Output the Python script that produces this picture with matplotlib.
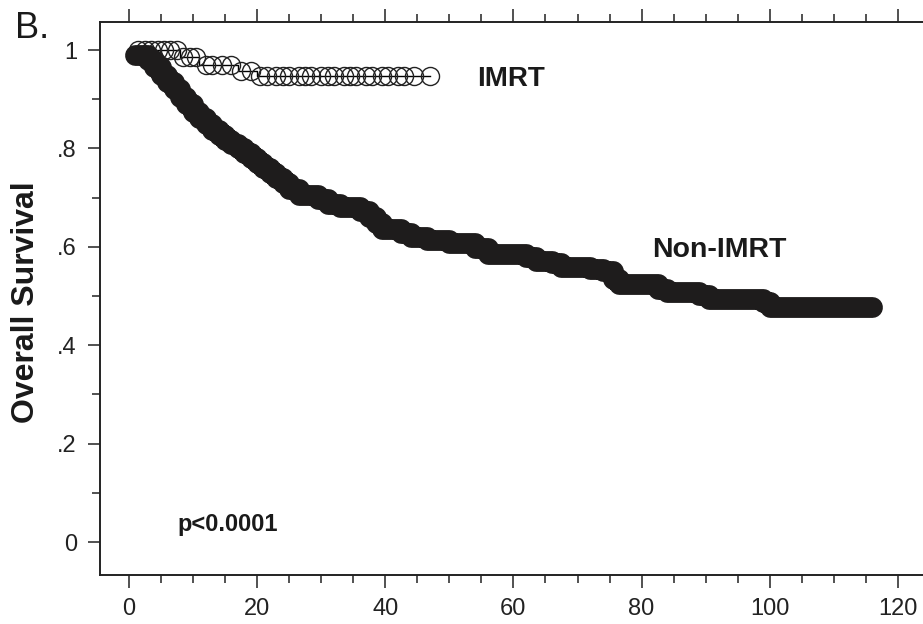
import numpy as np
import matplotlib
matplotlib.use("Agg")
import matplotlib.pyplot as plt
from matplotlib.ticker import MultipleLocator, FixedLocator, FixedFormatter

plt.rcParams['font.family'] = ['Liberation Sans', 'DejaVu Sans']

# Kaplan-Meier steps (months, survival)
nonimrt_t = [1, 3, 4, 5, 6, 7, 8, 9, 10, 11, 12, 13, 14, 15, 16, 17, 18, 19,
             20, 21, 22, 23, 24, 25, 26.5, 29.5, 31, 33, 36, 37.5, 38.5,
             39.5, 42.5, 44, 46.5, 50, 54, 56, 62, 63.5, 66, 67.5, 72, 74,
             75.5, 76.5, 82.5, 84, 89, 90.5, 99, 100, 116]
nonimrt_s = [0.99, 0.98, 0.965, 0.95, 0.935, 0.92, 0.905, 0.89, 0.875, 0.862,
             0.85, 0.838, 0.828, 0.818, 0.81, 0.80, 0.79, 0.78, 0.77, 0.76,
             0.75, 0.74, 0.73, 0.718, 0.705, 0.697, 0.688, 0.682, 0.672, 0.66,
             0.648, 0.636, 0.628, 0.62, 0.614, 0.608, 0.598, 0.585, 0.58,
             0.572, 0.568, 0.56, 0.555, 0.55, 0.535, 0.524, 0.515, 0.508,
             0.502, 0.494, 0.488, 0.478, 0.478]

imrt_t = [0, 8, 11, 17, 20, 47]
imrt_s = [1.0, 0.985, 0.97, 0.957, 0.947, 0.947]
imrt_censor = [1.5, 2.5, 3.5, 4.5, 5.5, 6.5, 7.5, 8.5, 9.5, 10.5, 12, 13,
               14.5, 16, 17.5, 19, 20.5, 21.5, 23, 24, 25, 26.5, 27.5, 28.5,
               30, 31, 32, 33.5, 34.5, 35.5, 37, 38, 39.5, 40.5, 42, 43,
               44.5, 47]

fig = plt.figure(figsize=(9.23, 6.24), dpi=100)
ax = fig.add_axes([0.1083, 0.0785, 0.8917, 0.8862])

# IMRT: thin step line with open circles at censored times
ax.step(imrt_t, imrt_s, where='post', color='black', lw=1.0, zorder=2)
idx = np.searchsorted(imrt_t, imrt_censor, side='right') - 1
ax.plot(imrt_censor, np.array(imrt_s)[idx], 'o', ms=13, mfc='none',
        mec='#222222', mew=1.0, zorder=3)

# Non-IMRT: censor marks are so dense they merge into a thick band
ax.step(nonimrt_t, nonimrt_s, where='post', color='#1e1c1c', lw=15,
        solid_joinstyle='round', solid_capstyle='round', zorder=4)

ax.set_xlim(-4.5, 123.9)
ax.set_ylim(-0.067, 1.057)

ax.xaxis.set_major_locator(MultipleLocator(20))
ax.xaxis.set_minor_locator(MultipleLocator(5))
ax.yaxis.set_major_locator(FixedLocator([0, 0.2, 0.4, 0.6, 0.8, 1.0]))
ax.yaxis.set_major_formatter(FixedFormatter(['0', '.2', '.4', '.6', '.8', '1']))
ax.yaxis.set_minor_locator(FixedLocator([0.1, 0.3, 0.5, 0.7, 0.9]))

ax.tick_params(axis='x', which='both', direction='out', top=True,
               bottom=True, width=1.1, colors='#222222', labelsize=17, pad=7,
               labelcolor='#222222')
ax.tick_params(axis='x', which='major', length=9.4)
ax.tick_params(axis='x', which='minor', length=5.8)
ax.tick_params(axis='y', which='both', direction='out', left=True,
               right=False, width=1.1, colors='#222222', labelsize=17, pad=8,
               labelcolor='#222222')
ax.tick_params(axis='y', which='major', length=8.6)
ax.tick_params(axis='y', which='minor', length=5.8)

for side in ['left', 'bottom', 'top']:
    ax.spines[side].set_linewidth(1.4)
    ax.spines[side].set_color('#222222')
ax.spines['right'].set_visible(False)

ax.text(54.3, 0.941, 'IMRT', fontsize=20, fontweight='bold', va='center',
        ha='left', color='#1a1a1a')
ax.text(81.6, 0.593, 'Non-IMRT', fontsize=20.5, fontweight='bold',
        va='center', ha='left', color='#1a1a1a')
ax.text(7.6, 0.035, 'p<0.0001', fontsize=17, fontweight='bold', va='center',
        ha='left', color='#1a1a1a')

fig.text(26 / 923, 1 - 302 / 624, 'Overall Survival', rotation=90,
         fontsize=23, fontweight='bold', ha='center', va='center',
         color='#1a1a1a')
fig.text(15 / 923, 1 - 38 / 624, 'B.', fontsize=26, ha='left',
         va='baseline', color='#1a1a1a')

fig.savefig('out.png', dpi=100)
